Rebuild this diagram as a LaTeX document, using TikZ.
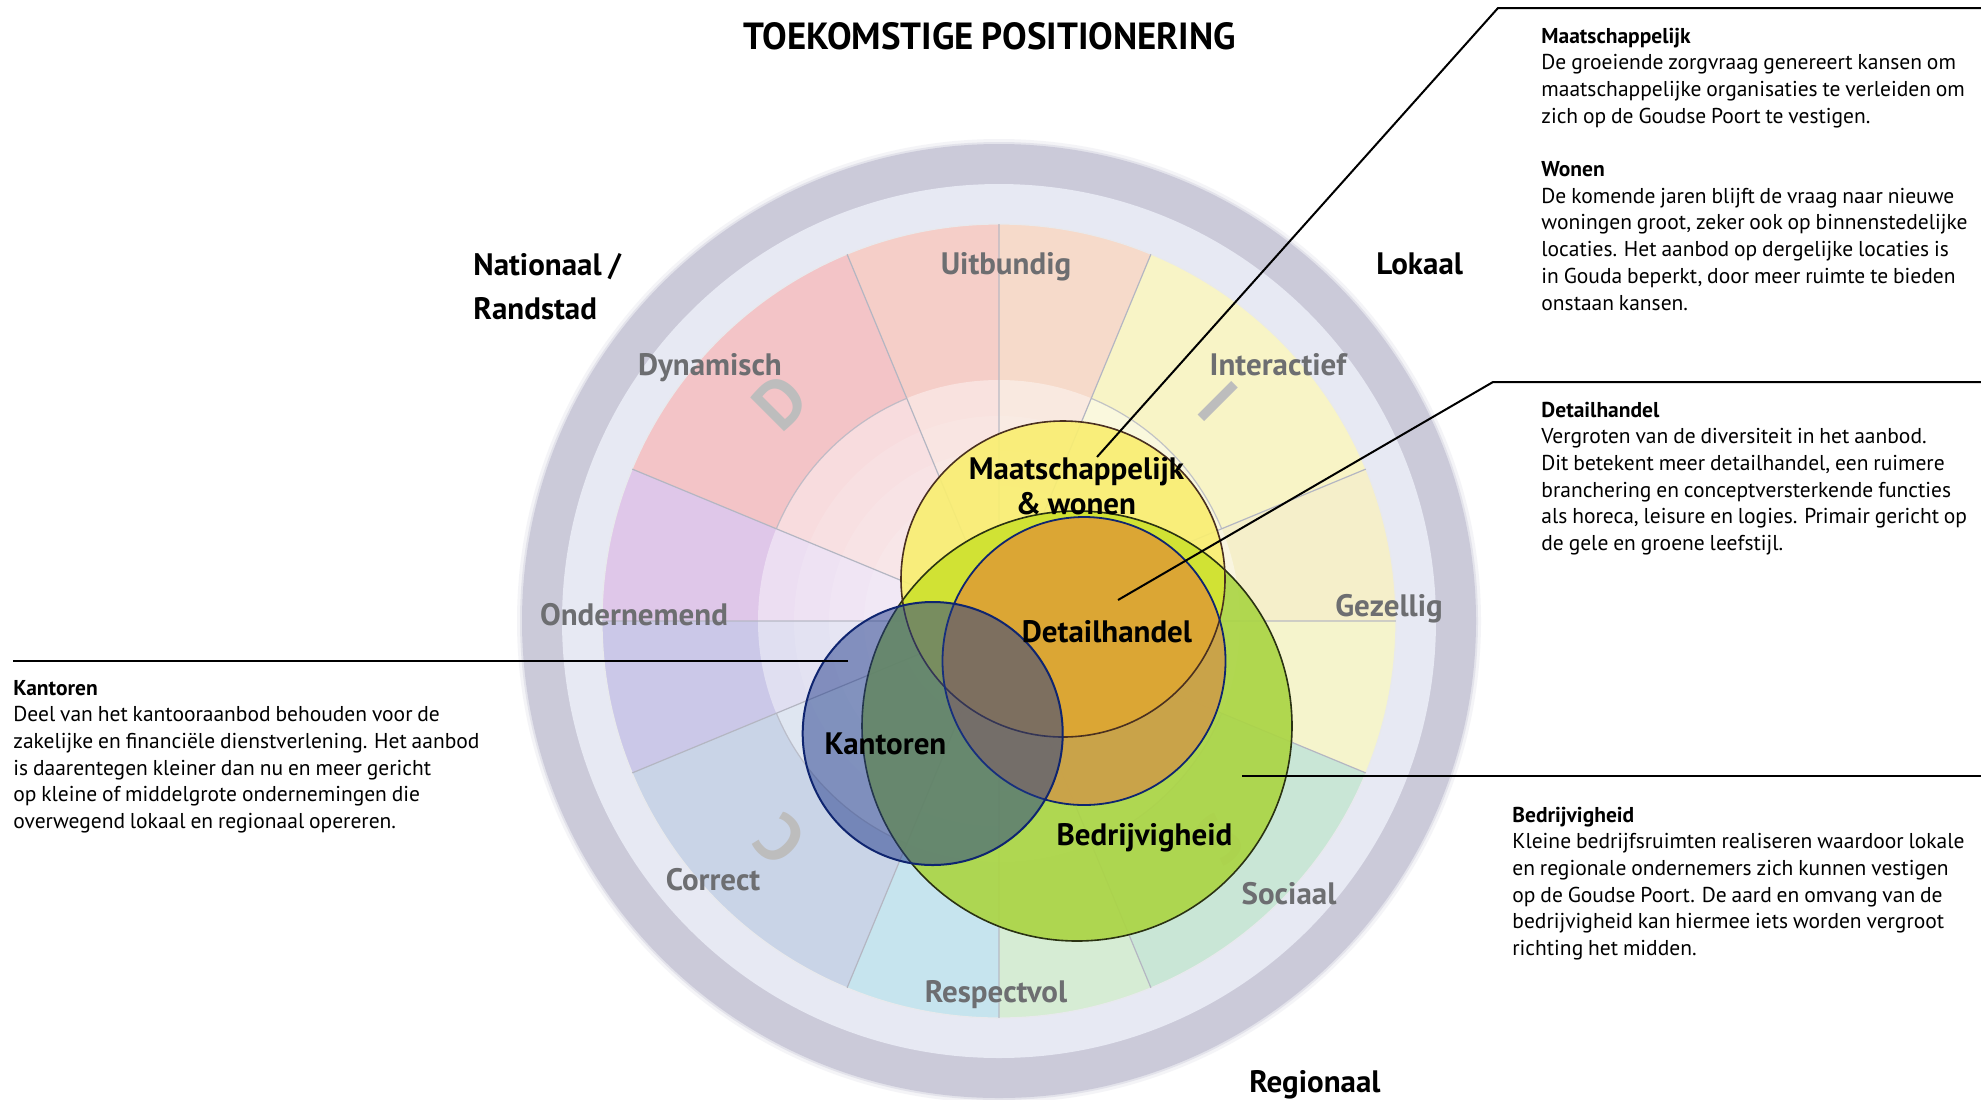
\documentclass[tikz,border=0pt]{standalone}
\usepackage{fontspec}
\usepackage{graphicx}
\setmainfont{PT Sans}[WordSpace=0.85]

% wheel colours
\definecolor{ringout}{HTML}{CBCAD9}
\definecolor{ringin}{HTML}{E7E9F3}
\definecolor{wlinec}{HTML}{B4B6C2}
\definecolor{labgray}{HTML}{6D6E71}
\definecolor{lettergray}{HTML}{BDBDBD}
\definecolor{cDyn}{HTML}{F3C4C7}
\definecolor{cUitL}{HTML}{F5CEC8}
\definecolor{cUitR}{HTML}{F6DACA}
\definecolor{cInt}{HTML}{F8F4C6}
\definecolor{cGezU}{HTML}{F5EFCA}
\definecolor{cGezL}{HTML}{F5F4CC}
\definecolor{cSoc}{HTML}{C9E6D6}
\definecolor{cResR}{HTML}{D6ECD4}
\definecolor{cResL}{HTML}{C6E4EE}
\definecolor{cCor}{HTML}{C9D4E7}
\definecolor{cOndL}{HTML}{CBC8E8}
\definecolor{cOndU}{HTML}{DFC7E9}
% venn colours
\definecolor{yelfill}{HTML}{F9EE72}
\definecolor{grnfill}{HTML}{ABD545}
\definecolor{limefill}{HTML}{D4E433}
\definecolor{orgbright}{HTML}{DDA733}
\definecolor{orgdull}{HTML}{CBA049}
\definecolor{bluefill}{HTML}{203A8A}
\definecolor{yelline}{HTML}{4A3020}
\definecolor{grnline}{HTML}{2A3212}
\definecolor{navyline}{HTML}{0F2570}

% one 397-radius slice of the wheel
\newcommand\wsector[3]{\fill[#3] (0,0) -- (#1:397) arc[start angle=#1, end angle=#2, radius=397] -- cycle;}
% a block of text lines, anchored at the baseline of its first line
\newcommand\tblock[1]{\vtop{\lineskiplimit=-20pt #1}}
\newcommand\tline[1]{\hbox{#1}}

\begin{document}
\begin{tikzpicture}[x=0.5pt,y=0.5pt,
  wline/.style={draw=wlinec, line width=0.6pt},
  wlabel/.style={font=\fontsize{15.5}{18}\selectfont\bfseries, text=labgray, inner sep=0pt, anchor=base},
  blabel/.style={font=\fontsize{15.5}{18}\selectfont\bfseries, text=black, inner sep=0pt},
  bigletter/.style={font=\fontsize{34}{34}\selectfont\bfseries, text=lettergray, inner sep=0pt},
  leader/.style={draw=black, line width=1pt},
  body/.style={font=\fontsize{10.75}{13.35}\selectfont, inner sep=0pt, anchor=base west},
]
\useasboundingbox[fill=white] (0,0) rectangle (1981,-1099);

% ---------------- lifestyle wheel ----------------
\begin{scope}[shift={(999,-621)}]
  % soft outer edge and rings
  \fill[ringout, opacity=0.2] (0,0) circle[radius=482];
  \fill[ringout, opacity=0.4] (0,0) circle[radius=479];
  \fill[ringout] (0,0) circle[radius=477];
  \fill[ringin] (0,0) circle[radius=437];
  % slices
  \wsector{67.5}{90}{cUitR}
  \wsector{90}{112.5}{cUitL}
  \wsector{112.5}{157.5}{cDyn}
  \wsector{157.5}{180}{cOndU}
  \wsector{180}{202.5}{cOndL}
  \wsector{202.5}{247.5}{cCor}
  \wsector{247.5}{270}{cResL}
  \wsector{270}{292.5}{cResR}
  \wsector{292.5}{337.5}{cSoc}
  \wsector{337.5}{360}{cGezL}
  \wsector{0}{22.5}{cGezU}
  \wsector{22.5}{67.5}{cInt}
  % lighter core
  \fill[white, opacity=0.42] (0,0) circle[radius=241];
  \foreach \r in {205,170,135,100,65,30}
    \fill[white, opacity=0.12] (0,0) circle[radius=\r];
  % slice borders
  \draw[draw=white!70!wlinec, line width=0.6pt] (0,0) circle[radius=397];
  \foreach \a in {22.5,67.5,...,337.5}
    \draw[wline] (0,0) -- (\a:397);
  \foreach \a in {0,90,180,270}
    \draw[wline, opacity=0.6] (0,0) -- (\a:397);
  \foreach \a in {22.5,112.5,202.5,292.5}
    \draw[wline, opacity=0.8] (\a:241) arc[start angle=\a, end angle=\a+45, radius=241];
  % faded type letters
  \node[bigletter, rotate=45]   (letD) at (135:310) {D};
  \node[bigletter, rotate=-45]  (letI) at (45:310)  {I};
  \node[bigletter, rotate=135]  (letC) at (225:310) {C};
  \node[bigletter, rotate=-135] (letS) at (315:310) {S};
\end{scope}

% wheel labels
\node[wlabel] (lUit) at (1006,-274)  {Uitbundig};
\node[wlabel] (lInt) at (1278,-375.5) {Interactief};
\node[wlabel] (lDyn) at (710,-375.5) {Dynamisch};
\node[wlabel] (lOnd) at (634,-625)   {Ondernemend};
\node[wlabel] (lGez) at (1389,-616.5) {Gezellig};
\node[wlabel] (lCor) at (713,-890)   {Correct};
\node[wlabel] (lSoc) at (1289,-904)  {Sociaal};
\node[wlabel] (lRes) at (996,-1002)  {Respectvol};

% ---------------- overlapping functions ----------------
\def\Ypath{(1063,-579) ellipse [x radius=162, y radius=158]}
\def\Gpath{(1077,-726) circle [radius=215]}
\def\Opath{(1084,-661) ellipse [x radius=141.5, y radius=144]}
\def\Bpath{(932.7,-733.5) ellipse [x radius=130, y radius=131.5]}

\fill[yelfill, fill opacity=0.92] \Ypath;
\fill[grnfill, fill opacity=0.92] \Gpath;
\begin{scope}
  \clip \Ypath;
  \fill[limefill, fill opacity=0.92] \Gpath;
\end{scope}
\fill[orgdull, fill opacity=0.94] \Opath;
\begin{scope}
  \clip \Ypath;
  \fill[orgbright, fill opacity=0.94] \Opath;
\end{scope}
\draw[grnline, line width=0.8pt] \Gpath;
\draw[yelline, line width=0.8pt] \Ypath;
\draw[navyline, line width=0.9pt] \Opath;
\fill[bluefill, fill opacity=0.5] \Bpath;
\draw[navyline, line width=1pt] \Bpath;

\node[blabel, anchor=base] (vMaat) at (1076.5,-479) {Maatschappelijk};
\node[blabel, anchor=base] (vWon)  at (1076,-514.5) {\& wonen};
\node[blabel, anchor=base] (vDet)  at (1107,-642.5) {Detailhandel};
\node[blabel, anchor=base] (vKan)  at (885.5,-754.5) {Kantoren};
\node[blabel, anchor=base] (vBed)  at (1144.5,-845.5) {Bedrijvigheid};

% ---------------- headings ----------------
\node[inner sep=0pt, anchor=base] (title) at (989.5,-49)
  {\resizebox{246.5pt}{13.5pt}{\bfseries TOEKOMSTIGE POSITIONERING}};
\node[blabel, anchor=base west] (nat)  at (473,-275.5) {Nationaal /};
\node[blabel, anchor=base west] (rand) at (473,-319.5) {Randstad};
\node[blabel, anchor=base west] (lok)  at (1376,-274.5) {Lokaal};
\node[blabel, anchor=base west] (reg)  at (1249,-1092) {Regionaal};

% ---------------- explanations ----------------
\node[body] (tMaat) at (1541,-43) {\tblock{%
  \tline{\bfseries Maatschappelijk}
  \tline{De groeiende zorgvraag genereert kansen om}
  \tline{maatschappelijke organisaties te verleiden om}
  \tline{zich op de Goudse Poort te vestigen.}
  \tline{}
  \tline{\bfseries Wonen}
  \tline{De komende jaren blijft de vraag naar nieuwe}
  \tline{woningen groot, zeker ook op binnenstedelijke}
  \tline{locaties. Het aanbod op dergelijke locaties is}
  \tline{in Gouda beperkt, door meer ruimte te bieden}
  \tline{onstaan kansen.}}};

\node[body] (tDet) at (1541,-417) {\tblock{%
  \tline{\bfseries Detailhandel}
  \tline{Vergroten van de diversiteit in het aanbod.}
  \tline{Dit betekent meer detailhandel, een ruimere}
  \tline{branchering en conceptversterkende functies}
  \tline{als horeca, leisure en logies. Primair gericht op}
  \tline{de gele en groene leefstijl.}}};

\node[body] (tKan) at (13,-695) {\tblock{%
  \tline{\bfseries Kantoren}
  \tline{Deel van het kantooraanbod behouden voor de}
  \tline{zakelijke en financiële dienstverlening. Het aanbod}
  \tline{is daarentegen kleiner dan nu en meer gericht}
  \tline{op kleine of middelgrote ondernemingen die}
  \tline{overwegend lokaal en regionaal opereren.}}};

\node[body] (tBed) at (1512,-822) {\tblock{%
  \tline{\bfseries Bedrijvigheid}
  \tline{Kleine bedrijfsruimten realiseren waardoor lokale}
  \tline{en regionale ondernemers zich kunnen vestigen}
  \tline{op de Goudse Poort. De aard en omvang van de}
  \tline{bedrijvigheid kan hiermee iets worden vergroot}
  \tline{richting het midden.}}};

% ---------------- leader lines ----------------
\coordinate (mStart) at (1097,-457);
\coordinate (mKnee)  at (1498,-8);
\coordinate (mEnd)   at (1981,-8);
\coordinate (dStart) at (1118,-600);
\coordinate (dKnee)  at (1493,-382);
\coordinate (dEnd)   at (1981,-382);
\coordinate (kStart) at (848,-661);
\coordinate (kEnd)   at (13,-661);
\coordinate (bStart) at (1242,-776);
\coordinate (bEnd)   at (1981,-776);
\draw[leader] (mStart) -- (mKnee) -- (mEnd);
\draw[leader] (dStart) -- (dKnee) -- (dEnd);
\draw[leader] (kStart) -- (kEnd);
\draw[leader] (bStart) -- (bEnd);
\end{tikzpicture}
\end{document}
